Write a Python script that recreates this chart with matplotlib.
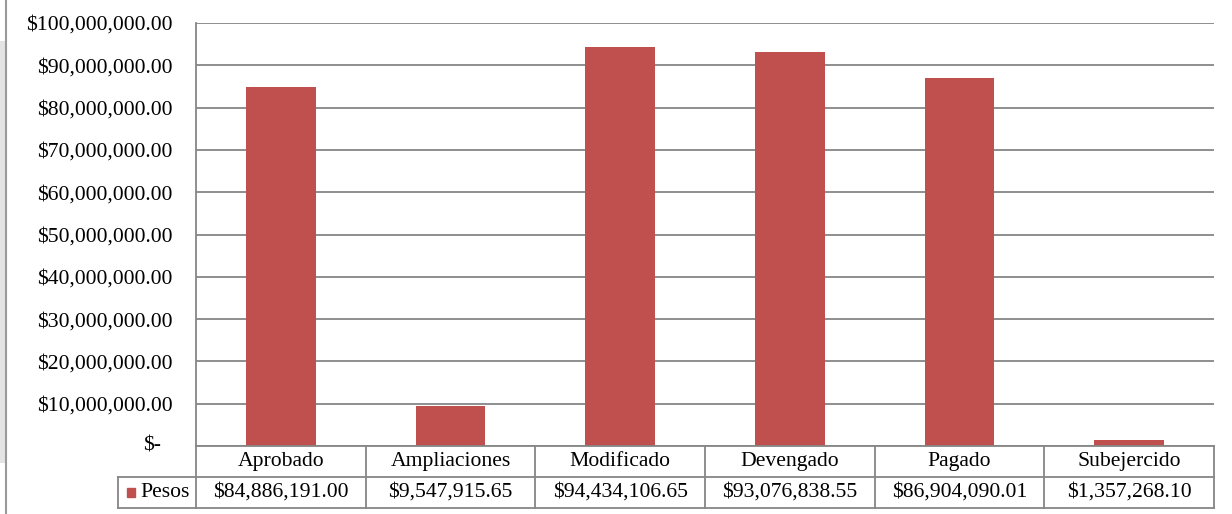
import matplotlib
matplotlib.use('Agg')
from matplotlib import pyplot as plt
from matplotlib.patches import Rectangle
import numpy as np

# data
categories = ['Aprobado', 'Ampliaciones', 'Modificado', 'Devengado', 'Pagado', 'Subejercido']
pesos = [84886191.00, 9547915.65, 94434106.65, 93076838.55, 86904090.01, 1357268.10]
series_name = 'Pesos'
yticks = np.arange(0, 100000001, 10000000)

bar_color = '#C0504D'
line_color = '#868686'
font = {'family': 'Liberation Serif', 'size': 15.6}
matplotlib.rc('font', **font)

W, H = 1232, 514
fig = plt.figure(figsize=(W / 100, H / 100), dpi=100)


def px_axes(x0, y0, x1, y1):
    # pixel box (top-left origin) -> figure axes
    return fig.add_axes([x0 / W, 1 - y1 / H, (x1 - x0) / W, (y1 - y0) / H])


# bar area
ax = px_axes(196, 23, 1214, 446)
x = np.arange(len(categories))
ax.bar(x, pesos, width=0.41, color=bar_color, zorder=2)
ax.set_xlim(-0.5, len(categories) - 0.5)
ax.set_ylim(0, 100000000)
ax.set_yticks(yticks)
ax.set_yticklabels(['' if v == 0 else f'${v:,.2f}' for v in yticks])
ax.annotate('$-', xy=(0, 0), xycoords=('axes fraction', 'data'),
            xytext=(-25, 0), textcoords='offset points', ha='right', va='center')
ax.tick_params(axis='y', length=0, pad=17)
ax.set_xticks([])
ax.grid(axis='y', color=line_color, linewidth=1.3, zorder=1)
for s in ['top', 'right', 'bottom']:
    ax.spines[s].set_visible(False)
ax.spines['left'].set_color(line_color)
ax.spines['left'].set_linewidth(1.3)

# data table under the bars
tx0 = 118
col_w = 1018 / len(categories)
left_x = -0.5 - (196 - tx0) / col_w
tab = px_axes(tx0, 446, 1214, 508)
tab.set_xlim(left_x, len(categories) - 0.5)
tab.set_ylim(0, 2)
tab.axis('off')
mid = 31 / 62 * 2
lw = 1.3
# horizontal lines
tab.plot([-0.5, len(categories) - 0.5], [2, 2], color=line_color, lw=lw, clip_on=False)
tab.plot([left_x, len(categories) - 0.5], [mid, mid], color=line_color, lw=lw, clip_on=False)
tab.plot([left_x, len(categories) - 0.5], [0, 0], color=line_color, lw=lw, clip_on=False)
# vertical lines
tab.plot([left_x, left_x], [0, mid], color=line_color, lw=lw, clip_on=False)
for i in range(len(categories) + 1):
    tab.plot([i - 0.5, i - 0.5], [0, 2], color=line_color, lw=lw, clip_on=False)
for i, (c, v) in enumerate(zip(categories, pesos)):
    tab.text(i, (mid + 2) / 2, c, ha='center', va='center')
    tab.text(i, mid / 2, f'${v:,.2f}', ha='center', va='center')
# legend key in the row header
tab.add_patch(Rectangle((left_x + 9 / col_w, mid / 2 - 0.14), 8.5 / col_w, 0.28,
                        color=bar_color, clip_on=False))
tab.text(left_x + 22 / col_w, mid / 2, series_name, ha='left', va='center')

# outer frame line on the left
fig.add_artist(plt.Line2D([6 / W, 6 / W], [0, 1], color='#9a9a9a', lw=1.5))
fig.add_artist(Rectangle((0, 0.1), 5 / W, 0.82, color='#e4e4e4', lw=0))

fig.savefig('out.png', dpi=100)
